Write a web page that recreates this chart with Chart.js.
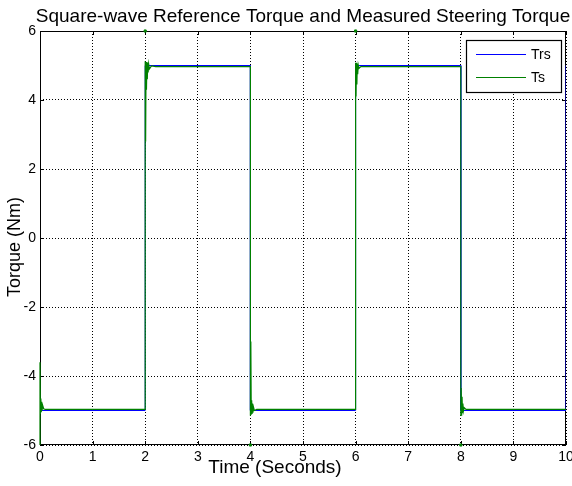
<!DOCTYPE html>
<html lang="en">
<head>
    <meta charset="UTF-8">
    <title>Square-wave Reference Torque and Measured Steering Torque</title>
    <script src="https://cdn.jsdelivr.net/npm/chart.js@4.4.0/dist/chart.umd.min.js"></script>
    <style>
        html, body { margin: 0; padding: 0; background: #fff; }
        #wrap { width: 572px; height: 486px; }
    </style>
</head>
<body>
    <div id="wrap"><canvas id="torque"></canvas></div>

    <script>
        const FONT = "'Liberation Sans', Arial, sans-serif";

        const titleText = 'Square-wave Reference Torque and Measured Steering Torque';
        const xTitle = 'Time (Seconds)';
        const yTitle = 'Torque (Nm)';

        // reference torque, ideal square wave
        const trsTime  = [0, 2, 2, 4, 4, 6, 6, 8, 8, 10, 10];
        const trsValue = [-5, -5, 5, 5, -5, -5, 5, 5, -5, -5, 5];

        // measured torque, ringing right after each switch
        const tsTime = [
            0, 0, 0.008, 0.016, 0.024, 0.032, 0.04, 0.05, 0.07, 0.1,
            2, 2, 2.008, 2.016, 2.024, 2.032, 2.04, 2.048, 2.056, 2.066, 2.08, 2.12, 2.2,
            4, 4, 4.008, 4.016, 4.024, 4.032, 4.04, 4.048, 4.058, 4.075, 4.12,
            6, 6, 6.008, 6.016, 6.024, 6.032, 6.04, 6.05, 6.065, 6.1,
            8, 8, 8.008, 8.016, 8.024, 8.032, 8.04, 8.05, 8.065, 8.1,
            10
        ];
        const tsValue = [
            -6, -3.6, -5.1, -4.65, -5.05, -4.75, -5.0, -4.85, -4.95, -4.97,
            -4.97, 5.12, 2.8, 5.1, 4.3, 5.1, 4.6, 5.08, 4.8, 5.04, 4.9, 4.99, 4.97,
            4.97, -5.15, -3.0, -5.12, -4.7, -5.1, -4.8, -5.06, -4.9, -5.0, -4.97,
            -4.97, 5.08, 4.1, 5.08, 4.45, 5.06, 4.75, 5.02, 4.92, 4.97,
            4.97, -5.16, -4.35, -5.15, -4.6, -5.08, -4.8, -5.02, -4.92, -4.97,
            -4.97
        ];

        // samples of Ts that overshoot to the axis limits
        const peakTime  = [2, 6, 4, 8];
        const peakValue = [6, 6, -6, -6];

        const xTicks = [0, 1, 2, 3, 4, 5, 6, 7, 8, 9, 10];
        const yTicks = [-6, -4, -2, 0, 2, 4, 6];

        const toPoints = (xs, ys) => xs.map((x, i) => ({ x: x, y: ys[i] }));

        // MATLAB-like frame: box and inward ticks under the data,
        // title, axis labels and legend on top
        const figurePlugin = {
            id: 'figure',
            beforeDatasetsDraw(chart) {
                const { ctx, chartArea: a, scales } = chart;
                ctx.save();
                ctx.strokeStyle = '#000';
                ctx.lineWidth = 1;
                ctx.strokeRect(a.left + 0.5, a.top + 0.5, a.right - a.left - 1, a.bottom - a.top - 1);

                ctx.beginPath();
                xTicks.forEach(v => {
                    const px = Math.round(scales.x.getPixelForValue(v)) + 0.5;
                    ctx.moveTo(px, a.bottom); ctx.lineTo(px, a.bottom - 4);
                    ctx.moveTo(px, a.top); ctx.lineTo(px, a.top + 4);
                });
                yTicks.forEach(v => {
                    const py = Math.round(scales.y.getPixelForValue(v)) + 0.5;
                    ctx.moveTo(a.left, py); ctx.lineTo(a.left + 4, py);
                    ctx.moveTo(a.right, py); ctx.lineTo(a.right - 4, py);
                });
                ctx.stroke();
                ctx.restore();
            },
            afterDraw(chart) {
                const { ctx, chartArea: a } = chart;
                ctx.save();

                ctx.fillStyle = '#000';
                ctx.textAlign = 'center';
                ctx.textBaseline = 'alphabetic';
                ctx.font = '19px ' + FONT;
                ctx.fillText(titleText, (a.left + a.right) / 2, 22);

                ctx.font = '19px ' + FONT;
                ctx.fillText(xTitle, (a.left + a.right) / 2 - 28, a.bottom + 28);

                ctx.save();
                ctx.font = '18px ' + FONT;
                ctx.translate(20, (a.top + a.bottom) / 2 + 9);
                ctx.rotate(-Math.PI / 2);
                ctx.fillText(yTitle, 0, 0);
                ctx.restore();

                // legend box
                const bw = 95, bh = 52;
                const bx = a.right - 5 - bw, by = a.top + 9;
                ctx.fillStyle = '#fff';
                ctx.fillRect(bx, by, bw, bh);
                ctx.strokeStyle = '#000';
                ctx.lineWidth = 1.2;
                ctx.strokeRect(bx + 0.5, by + 0.5, bw, bh);

                ctx.font = '14px ' + FONT;
                ctx.textAlign = 'left';
                ctx.textBaseline = 'middle';
                chart.data.datasets.slice(0, 2).forEach((ds, i) => {
                    const ly = Math.round(by + 14 + i * 23) + 0.5;
                    ctx.strokeStyle = ds.borderColor;
                    ctx.lineWidth = 1;
                    ctx.beginPath();
                    ctx.moveTo(bx + 10, ly);
                    ctx.lineTo(bx + 60, ly);
                    ctx.stroke();
                    ctx.fillStyle = '#000';
                    ctx.fillText(ds.label, bx + 65, ly + 1);
                });

                ctx.restore();
            }
        };

        new Chart(document.getElementById('torque'), {
            type: 'line',
            data: {
                datasets: [
                    {
                        label: 'Trs',
                        data: toPoints(trsTime, trsValue),
                        borderColor: '#0000ff',
                        borderWidth: 1,
                        pointRadius: 0,
                        order: 1
                    },
                    {
                        label: 'Ts',
                        data: toPoints(tsTime, tsValue),
                        borderColor: '#008000',
                        borderWidth: 1.2,
                        // a (never-breaking) dash keeps every sample in the path
                        borderDash: [100000, 1],
                        pointRadius: 0,
                        clip: false,
                        order: 0
                    },
                    {
                        label: 'peaks',
                        data: toPoints(peakTime, peakValue),
                        showLine: false,
                        borderColor: '#008000',
                        backgroundColor: '#008000',
                        pointStyle: 'rect',
                        pointRadius: 1.5,
                        clip: false,
                        order: -1
                    }
                ]
            },
            options: {
                responsive: true,
                maintainAspectRatio: false,
                animation: false,
                events: [],
                layout: { padding: { top: 31, right: 6, left: 0, bottom: 0 } },
                elements: { line: { tension: 0 } },
                plugins: {
                    legend: { display: false },
                    title: { display: false },
                    tooltip: { enabled: false }
                },
                scales: {
                    x: {
                        type: 'linear',
                        min: 0,
                        max: 10,
                        afterFit: s => { s.height = 41; s.paddingLeft = 0; s.paddingRight = 0; },
                        afterBuildTicks: s => { s.ticks = xTicks.map(v => ({ value: v })); },
                        ticks: { color: '#000', font: { family: FONT, size: 14 }, padding: 4, maxRotation: 0 },
                        grid: { color: '#000', lineWidth: 1, drawTicks: false },
                        border: { display: false, dash: [1, 2] }
                    },
                    y: {
                        type: 'linear',
                        min: -6,
                        max: 6,
                        afterFit: s => { s.width = 40; s.paddingTop = 0; s.paddingBottom = 0; },
                        afterBuildTicks: s => { s.ticks = yTicks.map(v => ({ value: v })); },
                        ticks: { color: '#000', font: { family: FONT, size: 14 }, padding: 4 },
                        grid: { color: '#000', lineWidth: 1, drawTicks: false },
                        border: { display: false, dash: [1, 2] }
                    }
                }
            },
            plugins: [figurePlugin]
        });
    </script>
</body>
</html>
